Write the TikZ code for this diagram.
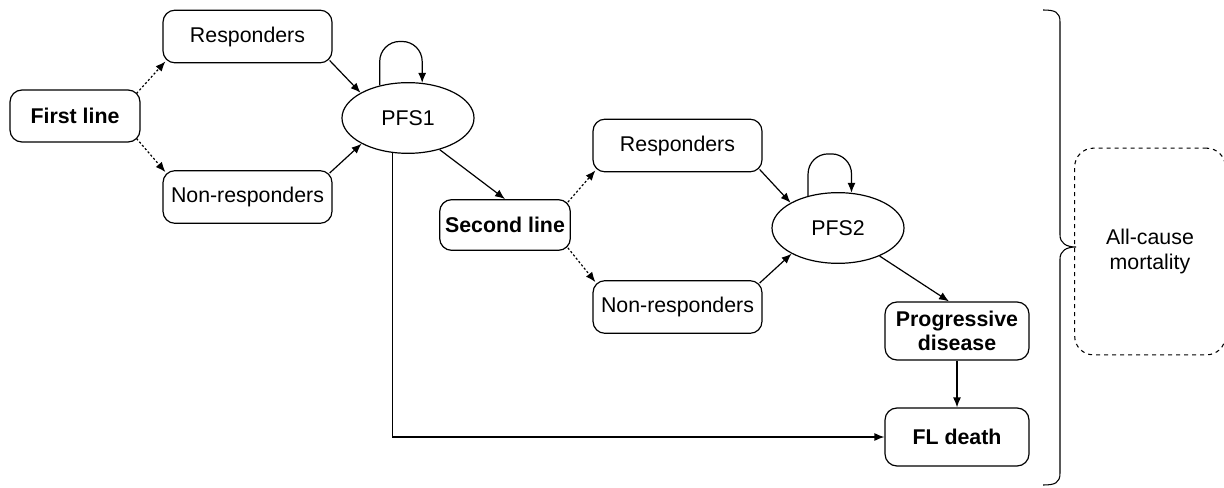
\documentclass[tikz,border=0pt]{standalone}
\usepackage{fontspec}
\setmainfont{Liberation Sans}
\usetikzlibrary{arrows.meta,shapes.geometric,calc}
\begin{document}
\begin{tikzpicture}[x=0.75pt,y=-0.75pt,
  every node/.style={font=\fontsize{16}{18.5}\selectfont},
  box/.style={draw,line width=0.9pt,rounded corners=9pt,align=center,minimum width=126.75pt,minimum height=39.5pt,inner sep=0pt},
  bbox/.style={box,font=\fontsize{16}{18.5}\selectfont\bfseries},
  ell/.style={draw,line width=0.9pt,ellipse,minimum width=99pt,minimum height=53pt,inner sep=0pt},
  arr/.style={line width=0.9pt,-{Latex[length=7.5pt,width=6pt]}},
  darr/.style={arr,dash pattern=on 1.6pt off 1.6pt}]
\useasboundingbox (0,0) rectangle (1224,488);
\node[bbox,minimum width=97.5pt,minimum height=39pt] (fl1) at (75,116) {First line};
\node[box] (r1) at (247.5,36.5) {Responders};
\node[box] (n1) at (247.5,197) {Non-responders};
\node[ell] (pfs1) at (408,118) {PFS1};
\node[bbox,minimum width=98pt,minimum height=38pt] (sl) at (505,225) {Second line};
\node[box] (r2) at (677.5,145.5) {Responders};
\node[box] (n2) at (677.5,307) {Non-responders};
\node[ell] (pfs2) at (838,228) {PFS2};
\node[bbox,minimum width=108pt,minimum height=43.5pt] (pd) at (957,331) {Progressive\\disease};
\node[bbox,minimum width=108pt,minimum height=43.5pt] (fd) at (957,437) {FL death};
% all-cause mortality
\node[draw,dashed,line width=0.8pt,rounded corners=14pt,minimum width=113pt,minimum height=155pt,align=center,inner sep=0pt] (acm) at (1150,251.5) {All-cause\\mortality};
% brace
\coordinate (b1) at (1043,10);
\coordinate (b2) at (1043,485);
\coordinate (bt) at (1076,247);
\draw[line width=0.8pt] (b1) .. controls (1055,10) and (1060,12) .. (1060,22) -- (1060,235) .. controls (1060,243) and (1066,247) .. (bt) .. controls (1066,247) and (1060,251) .. (1060,259) -- (1060,473) .. controls (1060,483) and (1055,485) .. (b2);
% first line arrows
\draw[darr] ($(fl1.north east)+(-4,4)$) -- ($(r1.south west)+(3,-2)$);
\draw[darr] ($(fl1.south east)+(-4,-4)$) -- ($(n1.north west)+(3,2)$);
\draw[arr] ($(r1.south east)+(-3,-3)$) -- (pfs1.152);
\draw[arr] ($(n1.north east)+(-3,3)$) -- (pfs1.209);
\draw[arr,rounded corners=15pt] (pfs1.131) -- ++(0,-44) -| (pfs1.68);
\draw[arr] (pfs1.315) -- (sl.north);
\draw[line width=0.9pt,-{Latex[length=7.5pt,width=6pt]}] (pfs1.246) |- (fd.west);
% second line arrows
\draw[darr] ($(sl.north east)+(-3,3)$) -- ($(r2.south west)+(3,-2)$);
\draw[darr] ($(sl.south east)+(-3,-3)$) -- ($(n2.north west)+(3,2)$);
\draw[arr] ($(r2.south east)+(-3,-3)$) -- (pfs2.152);
\draw[arr] ($(n2.north east)+(-3,3)$) -- (pfs2.209);
\draw[arr,rounded corners=15pt] (pfs2.133) -- ++(0,-42) -| (pfs2.69);
\draw[arr] (pfs2.326) -- ($(pd.north)+(-8,0)$);
\draw[arr] (pd.south) -- (fd.north);
\end{tikzpicture}
\end{document}
